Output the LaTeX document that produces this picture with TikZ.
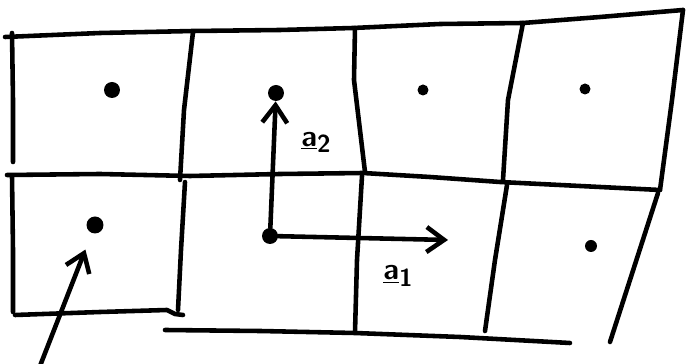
\documentclass[tikz,border=0pt]{standalone}
\usepackage{tikz}
\usetikzlibrary{arrows.meta}

\begin{document}
\begin{tikzpicture}[
    x=0.02cm, y=-0.02cm,
    pen/.style={line width=2.6pt, line cap=round, line join=round},
    dot/.style={circle, fill, inner sep=0pt, minimum size=#1},
    vec/.style={pen, -{Straight Barb[length=3.5mm, width=5mm]}},
    lbl/.style={font=\sffamily\bfseries\fontsize{17}{18}\selectfont, inner sep=1pt},
    sub/.style={font=\sffamily\bfseries\fontsize{14}{14}\selectfont}
  ]
  \useasboundingbox (0,0) rectangle (691,364);

  % horizontal edges
  \draw[pen] (5,37) -- (100,33) -- (193,31) -- (280,30) -- (353,28) -- (440,24) -- (523,23) -- (600,17) -- (683,10);
  \draw[pen] (7,175) -- (100,174) -- (190,176) -- (280,174) -- (363,173) -- (430,177) -- (500,182) -- (580,186) -- (660,190);
  \draw[pen] (15,315) -- (100,312) -- (167,310) -- (175,314) -- (183,315);
  \draw[pen] (165,330) -- (260,331) -- (355,333) -- (460,337) -- (570,343);

  % vertical edges
  \draw[pen] (12,33) -- (13,100) -- (13,162);
  \draw[pen] (12,176) -- (13,250) -- (13,312);
  \draw[pen] (193,32) -- (184,110) -- (180,180);
  \draw[pen] (185,182) -- (181,250) -- (178,310);
  \draw[pen] (355,28) -- (354,80) -- (365,172);
  \draw[pen] (362,176) -- (357,260) -- (355,332);
  \draw[pen] (523,23) -- (508,100) -- (503,180);
  \draw[pen] (507,185) -- (495,260) -- (485,331);
  \draw[pen] (683,10) -- (672,100) -- (660,190);
  \draw[pen] (658,193) -- (610,342);

  % lattice points
  \node[dot=3.2mm] (l1) at (112,90) {};
  \node[dot=3.2mm] (l2) at (276,93) {};
  \node[dot=2.2mm] (l3) at (423,90) {};
  \node[dot=2.2mm] (l4) at (585,89) {};
  \node[dot=3.4mm] (k1) at (95,225) {};
  \node[dot=3.2mm] (k2) at (270,236) {};
  \node[dot=2.4mm] (k4) at (591,246) {};

  % basis vectors
  \coordinate (a1tip) at (448,240);
  \draw[vec] (k2) -- (l2);
  \draw[vec] (k2) -- (a1tip);
  \node[lbl] (a2lbl) at (316,142) {\underline{a}\raisebox{-0.45ex}{\fontsize{14}{14}\selectfont 2}};
  \node[lbl] (a1lbl) at (398,276) {\underline{a}\raisebox{-0.5ex}{\fontsize{14}{14}\selectfont 1}};

  % pointer
  \coordinate (ptail) at (40,366);
  \draw[vec, shorten >=3.5mm] (ptail) -- (k1);
\end{tikzpicture}
\end{document}
